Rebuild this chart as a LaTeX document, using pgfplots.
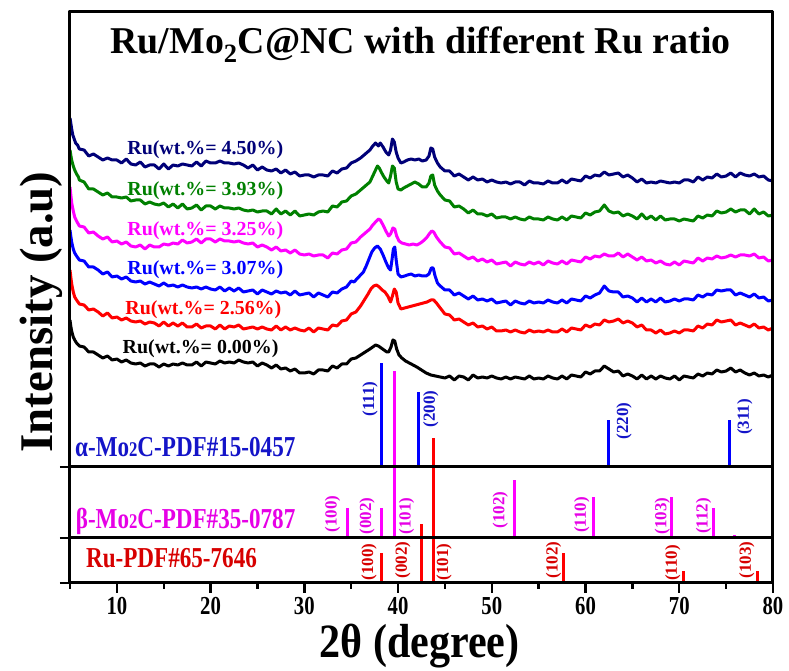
\documentclass[border=0pt]{standalone}
\usepackage{pgfplots}
\pgfplotsset{compat=1.18}
\usepackage{fontspec}
\setmainfont{Liberation Serif}
\newfontfamily\cnd[FakeStretch=0.8]{Liberation Serif}
\newfontfamily\cndx[FakeStretch=0.88]{Liberation Serif}
\newcommand\fs[1]{\fontsize{#1}{#1}\selectfont}
\definecolor{navy}{RGB}{0,0,120}
\definecolor{dgreen}{RGB}{0,128,0}
\definecolor{mag}{RGB}{255,0,255}
\definecolor{dmag}{RGB}{230,0,230}
\definecolor{blu}{RGB}{0,0,255}
\definecolor{dblu}{RGB}{20,20,200}
\definecolor{rd}{RGB}{255,0,0}
\definecolor{drd}{RGB}{215,0,0}
\begin{document}
\begin{tikzpicture}
\begin{axis}[
  scale only axis, width=703bp, height=571bp,
  xmin=5, xmax=80, ymin=12, ymax=583, y dir=reverse,
  clip=false,
  axis line style={line width=3bp},
  xtick={10,20,...,80}, minor xtick={5,15,...,75},
  ytick={467,538,583}, yticklabels={},
  xtick pos=bottom, ytick pos=left,
  tick align=outside,
  major tick length=10bp, minor tick length=6bp,
  every tick/.style={line width=2.4bp, black},
  /pgf/number format/assume math mode=true,
  xticklabel style={font=\cnd\bfseries\fs{26}, yshift=-1bp},
  line join=round,
]
\path (axis cs:-2.468,0) rectangle (axis cs:81.71,671);

% ---- XRD curves (y in picture units, reversed) ----
\addplot[navy, line width=3bp] coordinates {
(5.0,118)(5.1,124)(5.2,130)(5.3,135)(5.45,139)(5.6,143)(5.8,145)
(6.0,149)(6.5,150)(7.0,156)(7.5,154)(8.0,157)(8.5,160)(9.0,158)(9.5,160)(10.0,160)(10.5,163)(11.0,159)(11.5,164)
(12.0,165)(12.5,162)(13.0,167)(13.5,165)(14.0,165)(14.5,169)(15.0,164)(15.5,169)(16.0,165)(16.5,166)(17.0,164)(17.5,165)
(18.0,166)(18.5,162)(19.0,166)(19.5,161)(20.0,163)(20.5,163)(21.0,161)(21.5,163)(22.0,163)(22.5,164)(23.0,163)(23.5,165)
(24.0,168)(24.5,165)(25.0,170)(25.5,167)(26.0,170)(26.5,171)(27.0,169)(27.5,173)(28.0,170)(28.5,174)(29.0,172)(29.5,176)
(30.0,175)(30.5,175)(31.0,177)(31.5,175)(32.0,175)(32.5,176)(33.0,171)(33.5,173)(34.0,169)(34.5,168)(35.0,163)
(35.5,161)(36.0,158)(36.5,154)(37.0,150)(37.3,146)(37.6,143)(37.9,146)(38.1,143)(38.4,147)(38.7,152)(39.0,155)(39.2,150)(39.4,139)(39.6,142)(39.8,152)(40.0,158)(40.3,163)(40.6,162)(41.0,160)(41.4,159)(41.8,160)(42.2,159)(42.6,161)(43.0,160)(43.3,156)(43.5,148)(43.7,149)(43.9,157)(44.2,163)(44.5,167)
(45.0,171)(45.5,171)(46.0,176)(46.5,174)(47.0,177)(47.5,180)(48.0,177)(48.5,180)(49.0,179)(49.5,182)(50.0,180)(50.5,182)
(51.0,183)(51.5,182)(52.0,184)(52.5,182)(53.0,182)(53.5,185)(54.0,181)(54.5,183)(55.0,183)(55.5,184)(56.0,181)(56.5,183)
(57.0,183)(57.5,180)(58.0,183)(58.5,179)(59.0,180)(59.5,181)(60.0,176)(60.5,178)(61.0,175)(61.5,176)(62.0,172)(62.5,175)
(63.0,174)(63.5,173)(64.0,177)(64.5,175)(65.0,178)(65.5,182)(66.0,179)(66.5,183)(67.0,182)(67.5,183)(68.0,181)(68.5,182)
(69.0,183)(69.5,182)(70.0,183)(70.5,180)(71.0,180)(71.5,182)(72.0,177)(72.5,180)(73.0,177)(73.5,178)(74.0,174)(74.5,177)
(75.0,176)(75.5,173)(76.0,177)(76.5,173)(77.0,175)(77.5,176)(78.0,174)(78.5,177)(79.0,176)(79.5,180)(80.0,181)};
\addplot[dgreen, line width=3bp] coordinates {
(5.0,150)(5.1,156)(5.2,161)(5.35,166)(5.5,170)(5.7,174)(5.9,177)
(6.0,180)(6.5,182)(7.0,189)(7.5,189)(8.0,192)(8.5,195)(9.0,193)(9.5,197)(10.0,197)(10.5,198)(11.0,197)(11.5,201)
(12.0,200)(12.5,200)(13.0,204)(13.5,202)(14.0,204)(14.5,205)(15.0,203)(15.5,207)(16.0,204)(16.5,208)(17.0,204)(17.5,209)
(18.0,208)(18.5,205)(19.0,210)(19.5,206)(20.0,206)(20.5,209)(21.0,206)(21.5,208)(22.0,208)(22.5,209)(23.0,208)(23.5,210)
(24.0,211)(24.5,210)(25.0,212)(25.5,211)(26.0,211)(26.5,214)(27.0,209)(27.5,214)(28.0,211)(28.5,215)(29.0,211)(29.5,216)
(30.0,215)(30.5,214)(31.0,215)(31.5,212)(32.0,211)(32.5,212)(33.0,206)(33.5,207)(34.0,202)(34.5,201)(35.0,196)
(35.5,194)(36.0,190)(36.5,186)(37.0,182)(37.3,176)(37.6,170)(37.8,166)(38.0,168)(38.2,172)(38.5,177)(38.8,181)(39.0,183)(39.2,176)(39.4,166)(39.6,168)(39.8,182)(40.0,189)(40.3,190)(40.6,188)(41.0,186)(41.4,184)(41.8,182)(42.2,184)(42.6,187)(43.0,187)(43.3,183)(43.5,176)(43.7,175)(43.9,185)(44.2,191)(44.5,195)
(45.0,200)(45.5,201)(46.0,207)(46.5,206)(47.0,209)(47.5,213)(48.0,210)(48.5,214)(49.0,214)(49.5,216)(50.0,214)(50.5,218)
(51.0,217)(51.5,217)(52.0,219)(52.5,217)(53.0,219)(53.5,220)(54.0,217)(54.5,219)(55.0,219)(55.5,220)(56.0,217)(56.5,219)
(57.0,220)(57.5,217)(58.0,220)(58.5,216)(59.0,217)(59.5,218)(60.0,213)(60.5,215)(61.0,212)(61.5,211)(62.0,205)(62.5,211)
(63.0,213)(63.5,212)(64.0,216)(64.5,214)(65.0,216)(65.5,219)(66.0,214)(66.5,219)(67.0,216)(67.5,220)(68.0,216)(68.5,220)
(69.0,219)(69.5,219)(70.0,221)(70.5,219)(71.0,220)(71.5,221)(72.0,216)(72.5,218)(73.0,215)(73.5,216)(74.0,211)(74.5,213)
(75.0,212)(75.5,209)(76.0,212)(76.5,210)(77.0,210)(77.5,214)(78.0,209)(78.5,214)(79.0,212)(79.5,216)(80.0,215)};
\addplot[mag, line width=3bp] coordinates {
(5.0,187)(5.1,196)(5.2,204)(5.35,211)(5.5,217)(5.7,221)
(6.0,226)(6.5,227)(7.0,233)(7.5,232)(8.0,236)(8.5,239)(9.0,237)(9.5,242)(10.0,241)(10.5,244)(11.0,242)(11.5,246)
(12.0,247)(12.5,245)(13.0,249)(13.5,245)(14.0,247)(14.5,247)(15.0,244)(15.5,245)(16.0,243)(16.5,244)(17.0,240)(17.5,243)
(18.0,242)(18.5,239)(19.0,243)(19.5,239)(20.0,239)(20.5,242)(21.0,239)(21.5,241)(22.0,241)(22.5,242)(23.0,241)(23.5,243)
(24.0,244)(24.5,243)(25.0,247)(25.5,245)(26.0,247)(26.5,250)(27.0,247)(27.5,251)(28.0,250)(28.5,253)(29.0,250)(29.5,254)
(30.0,255)(30.5,254)(31.0,256)(31.5,255)(32.0,255)(32.5,258)(33.0,253)(33.5,254)(34.0,250)(34.5,249)(35.0,243)
(35.5,242)(36.0,237)(36.5,233)(37.0,229)(37.3,225)(37.6,222)(37.9,219)(38.1,220)(38.4,225)(38.7,231)(39.0,236)(39.2,234)(39.45,228)(39.65,229)(39.85,236)(40.1,241)(40.4,243)(40.8,244)(41.2,245)(41.6,244)(42.0,245)(42.4,243)(42.8,240)(43.1,237)(43.4,233)(43.6,231)(43.8,232)(44.1,237)(44.5,242)
(45.0,247)(45.5,248)(46.0,254)(46.5,253)(47.0,256)(47.5,259)(48.0,257)(48.5,261)(49.0,259)(49.5,262)(50.0,260)(50.5,264)
(51.0,263)(51.5,262)(52.0,266)(52.5,262)(53.0,264)(53.5,265)(54.0,262)(54.5,264)(55.0,262)(55.5,265)(56.0,261)(56.5,263)
(57.0,264)(57.5,261)(58.0,264)(58.5,260)(59.0,261)(59.5,262)(60.0,257)(60.5,259)(61.0,256)(61.5,257)(62.0,254)(62.5,256)
(63.0,256)(63.5,253)(64.0,257)(64.5,254)(65.0,257)(65.5,260)(66.0,257)(66.5,261)(67.0,260)(67.5,263)(68.0,261)(68.5,264)
(69.0,265)(69.5,262)(70.0,265)(70.5,261)(71.0,262)(71.5,263)(72.0,258)(72.5,261)(73.0,258)(73.5,259)(74.0,256)(74.5,258)
(75.0,257)(75.5,255)(76.0,257)(76.5,255)(77.0,255)(77.5,256)(78.0,254)(78.5,258)(79.0,257)(79.5,261)(80.0,260)};
\addplot[blu, line width=3bp] coordinates {
(5.0,230)(5.1,237)(5.2,243)(5.35,249)(5.5,253)(5.7,256)
(6.0,260)(6.5,261)(7.0,267)(7.5,267)(8.0,270)(8.5,274)(9.0,272)(9.5,277)(10.0,276)(10.5,279)(11.0,277)(11.5,281)
(12.0,282)(12.5,281)(13.0,284)(13.5,282)(14.0,284)(14.5,286)(15.0,283)(15.5,286)(16.0,285)(16.5,287)(17.0,285)(17.5,287)
(18.0,288)(18.5,287)(19.0,289)(19.5,287)(20.0,289)(20.5,290)(21.0,287)(21.5,291)(22.0,288)(22.5,291)(23.0,288)(23.5,292)
(24.0,291)(24.5,290)(25.0,294)(25.5,290)(26.0,292)(26.5,294)(27.0,291)(27.5,293)(28.0,292)(28.5,295)(29.0,291)(29.5,295)
(30.0,294)(30.5,293)(31.0,297)(31.5,293)(32.0,295)(32.5,297)(33.0,292)(33.5,293)(34.0,289)(34.5,287)(35.0,281)
(35.3,282)(35.7,278)(36.0,275)(36.3,272)(36.6,266)(36.9,259)(37.2,252)(37.5,248)(37.8,246)(38.1,249)(38.4,255)(38.7,262)(39.0,268)(39.2,270)(39.35,260)(39.5,249)(39.65,247)(39.8,260)(40.0,274)(40.3,277)(40.7,276)(41.0,275)(41.4,274)(41.8,276)(42.2,275)(42.6,276)(43.0,276)(43.3,274)(43.55,268)(43.75,268)(43.95,276)(44.2,283)(44.5,286)
(45.0,290)(45.5,290)(46.0,295)(46.5,293)(47.0,296)(47.5,299)(48.0,296)(48.5,300)(49.0,299)(49.5,301)(50.0,299)(50.5,303)
(51.0,302)(51.5,301)(52.0,305)(52.5,301)(53.0,303)(53.5,304)(54.0,301)(54.5,303)(55.0,302)(55.5,303)(56.0,300)(56.5,302)
(57.0,303)(57.5,300)(58.0,303)(58.5,299)(59.0,300)(59.5,301)(60.0,296)(60.5,298)(61.0,295)(61.5,293)(62.0,286)(62.5,291)
(63.0,292)(63.5,292)(64.0,297)(64.5,296)(65.0,298)(65.5,302)(66.0,298)(66.5,302)(67.0,299)(67.5,302)(68.0,298)(68.5,302)
(69.0,301)(69.5,299)(70.0,301)(70.5,299)(71.0,299)(71.5,300)(72.0,295)(72.5,297)(73.0,294)(73.5,295)(74.0,290)(74.5,291)
(75.0,290)(75.5,290)(76.0,295)(76.5,293)(77.0,295)(77.5,297)(78.0,294)(78.5,298)(79.0,297)(79.5,301)(80.0,300)};
\addplot[rd, line width=3bp] coordinates {
(5.0,270)(5.1,278)(5.2,285)(5.35,292)(5.5,297)(5.7,300)
(6.0,304)(6.5,305)(7.0,310)(7.5,309)(8.0,312)(8.5,316)(9.0,313)(9.5,318)(10.0,317)(10.5,320)(11.0,318)(11.5,321)
(12.0,322)(12.5,321)(13.0,324)(13.5,322)(14.0,323)(14.5,326)(15.0,322)(15.5,326)(16.0,323)(16.5,326)(17.0,323)(17.5,327)
(18.0,327)(18.5,324)(19.0,328)(19.5,326)(20.0,326)(20.5,329)(21.0,325)(21.5,329)(22.0,326)(22.5,327)(23.0,325)(23.5,329)
(24.0,328)(24.5,327)(25.0,329)(25.5,327)(26.0,329)(26.5,330)(27.0,326)(27.5,330)(28.0,327)(28.5,330)(29.0,328)(29.5,330)
(30.0,331)(30.5,328)(31.0,332)(31.5,328)(32.0,329)(32.5,330)(33.0,325)(33.5,326)(34.0,321)(34.5,320)(35.0,314)
(35.5,312)(36.0,306)(36.4,300)(36.8,294)(37.1,289)(37.4,286)(37.7,285)(38.0,287)(38.3,290)(38.6,292)(38.9,296)(39.2,302)(39.4,296)(39.6,289)(39.8,292)(40.0,303)(40.3,309)(40.7,308)(41.1,307)(41.5,306)(41.9,305)(42.3,304)(42.7,303)(43.1,302)(43.5,300)(43.8,300)(44.1,303)(44.5,308)
(45.0,314)(45.5,315)(46.0,320)(46.5,319)(47.0,322)(47.5,325)(48.0,323)(48.5,327)(49.0,326)(49.5,329)(50.0,327)(50.5,331)
(51.0,331)(51.5,330)(52.0,332)(52.5,330)(53.0,332)(53.5,333)(54.0,330)(54.5,332)(55.0,331)(55.5,332)(56.0,330)(56.5,332)
(57.0,332)(57.5,329)(58.0,332)(58.5,328)(59.0,329)(59.5,330)(60.0,325)(60.5,327)(61.0,324)(61.5,325)(62.0,320)(62.5,322)
(63.0,321)(63.5,319)(64.0,323)(64.5,321)(65.0,323)(65.5,327)(66.0,325)(66.5,330)(67.0,330)(67.5,333)(68.0,330)(68.5,334)
(69.0,333)(69.5,331)(70.0,333)(70.5,330)(71.0,330)(71.5,331)(72.0,326)(72.5,328)(73.0,324)(73.5,325)(74.0,320)(74.5,322)
(75.0,321)(75.5,320)(76.0,325)(76.5,323)(77.0,325)(77.5,327)(78.0,324)(78.5,328)(79.0,327)(79.5,330)(80.0,328)};
\addplot[black, line width=3bp] coordinates {
(5.0,320)(5.1,327)(5.2,332)(5.35,337)(5.5,340)(5.7,343)
(6.0,346)(6.5,347)(7.0,352)(7.5,352)(8.0,355)(8.5,358)(9.0,356)(9.5,360)(10.0,359)(10.5,362)(11.0,360)(11.5,363)
(12.0,364)(12.5,363)(13.0,366)(13.5,364)(14.0,364)(14.5,367)(15.0,364)(15.5,366)(16.0,364)(16.5,365)(17.0,363)(17.5,365)
(18.0,365)(18.5,362)(19.0,366)(19.5,362)(20.0,363)(20.5,364)(21.0,361)(21.5,363)(22.0,362)(22.5,363)(23.0,360)(23.5,362)
(24.0,363)(24.5,362)(25.0,366)(25.5,363)(26.0,365)(26.5,368)(27.0,365)(27.5,369)(28.0,368)(28.5,371)(29.0,369)(29.5,373)
(30.0,373)(30.5,372)(31.0,374)(31.5,370)(32.0,370)(32.5,371)(33.0,366)(33.5,368)(34.0,364)(34.5,364)(35.0,359)
(35.5,358)(36.0,355)(36.5,352)(37.0,349)(37.3,347)(37.6,345)(37.9,346)(38.2,348)(38.5,350)(38.8,352)(39.0,352)(39.25,347)(39.45,340)(39.65,341)(39.85,349)(40.1,355)(40.4,358)(40.8,361)(41.2,363)(41.6,365)(42.0,367)(42.5,370)(43.0,373)(43.5,375)(44.0,376)(44.5,377)
(45.0,378)(45.5,376)(46.0,380)(46.5,376)(47.0,377)(47.5,380)(48.0,375)(48.5,378)(49.0,377)(49.5,378)(50.0,376)(50.5,378)
(51.0,379)(51.5,377)(52.0,379)(52.5,377)(53.0,378)(53.5,379)(54.0,376)(54.5,379)(55.0,378)(55.5,379)(56.0,376)(56.5,378)
(57.0,379)(57.5,376)(58.0,379)(58.5,375)(59.0,376)(59.5,377)(60.0,372)(60.5,374)(61.0,371)(61.5,371)(62.0,366)(62.5,369)
(63.0,372)(63.5,371)(64.0,376)(64.5,374)(65.0,376)(65.5,379)(66.0,375)(66.5,379)(67.0,376)(67.5,379)(68.0,376)(68.5,378)
(69.0,379)(69.5,376)(70.0,380)(70.5,376)(71.0,377)(71.5,378)(72.0,374)(72.5,376)(73.0,373)(73.5,374)(74.0,370)(74.5,372)
(75.0,371)(75.5,368)(76.0,372)(76.5,370)(77.0,373)(77.5,375)(78.0,373)(78.5,376)(79.0,375)(79.5,377)(80.0,375)};

% ---- reference sticks ----
\addplot[blu, line width=3bp, unbounded coords=jump] coordinates {
(38.2,467)(38.2,363)(38.2,nan)(42.2,467)(42.2,392)(42.2,nan)(62.4,467)(62.4,420)(62.4,nan)(75.4,467)(75.4,420)};
\addplot[mag, line width=3bp, unbounded coords=jump] coordinates {
(34.6,538)(34.6,508)(34.6,nan)(38.2,538)(38.2,508)(38.2,nan)(39.6,538)(39.6,371)(39.6,nan)(52.4,538)(52.4,480)(52.4,nan)(60.9,538)(60.9,497)(60.9,nan)(69.2,538)(69.2,497)(69.2,nan)(73.7,538)(73.7,508)(73.7,nan)(75.9,538)(75.9,535)};
\addplot[rd, line width=3bp, unbounded coords=jump] coordinates {
(38.2,583)(38.2,553)(38.2,nan)(42.5,583)(42.5,524)(42.5,nan)(43.8,583)(43.8,438)(43.8,nan)(57.7,583)(57.7,553)(57.7,nan)(70.4,583)(70.4,571)(70.4,nan)(78.4,583)(78.4,571)};

% separators and frame
\draw[line width=3bp] (axis cs:5,467) -- (axis cs:80,467);
\draw[line width=3bp] (axis cs:5,538) -- (axis cs:80,538);
\draw[line width=3bp] (rel axis cs:0,0) rectangle (rel axis cs:1,1);

% ---- texts ----
\node[font=\bfseries\fs{38}] at (axis cs:42.4,45) {Ru/Mo\textsubscript{2}C@NC with different Ru ratio};
\begin{scope}[every node/.style={font=\bfseries\fs{20}, anchor=west, inner sep=0pt}]
\node[text=navy] at (axis cs:11.1,150) {Ru(wt.\%= 4.50\%)};
\node[text=dgreen] at (axis cs:11.1,191) {Ru(wt.\%= 3.93\%)};
\node[text=mag] at (axis cs:11.1,231) {Ru(wt.\%= 3.25\%)};
\node[text=blu] at (axis cs:11.1,270) {Ru(wt.\%= 3.07\%)};
\node[text=rd] at (axis cs:10.9,310) {Ru(wt.\%= 2.56\%)};
\node[text=black] at (axis cs:10.6,349) {Ru(wt.\%= 0.00\%)};
\end{scope}
\begin{scope}[every node/.style={font=\cnd\bfseries\fs{29}, anchor=west, inner sep=0pt}]
\node[text=dblu] at (axis cs:5.53,447) {α-Mo{\fs{21}2}C-PDF\#15-0457};
\node[text=dmag] at (axis cs:5.6,521) {β-Mo{\fs{21}2}C-PDF\#35-0787};
\node[text=drd] at (axis cs:6.7,558) {Ru-PDF\#65-7646};
\end{scope}
\begin{scope}[every node/.style={font=\bfseries\fs{17}, rotate=90, inner sep=0pt}]
\node[text=dblu] at (axis cs:37.0,399) {(111)};
\node[text=dblu] at (axis cs:43.5,409) {(200)};
\node[text=dblu] at (axis cs:64.1,421) {(220)};
\node[text=dblu] at (axis cs:77.0,417) {(311)};
\node[text=dmag] at (axis cs:33.0,514) {(100)};
\node[text=dmag] at (axis cs:36.7,516) {(002)};
\node[text=dmag] at (axis cs:40.9,516) {(101)};
\node[text=dmag] at (axis cs:50.9,510) {(102)};
\node[text=dmag] at (axis cs:59.6,515) {(110)};
\node[text=dmag] at (axis cs:68.2,516) {(103)};
\node[text=dmag] at (axis cs:72.6,516) {(112)};
\node[text=drd] at (axis cs:36.9,562) {(100)};
\node[text=drd] at (axis cs:40.5,560) {(002)};
\node[text=drd] at (axis cs:44.9,562) {(101)};
\node[text=drd] at (axis cs:56.6,560) {(102)};
\node[text=drd] at (axis cs:69.3,563) {(110)};
\node[text=drd] at (axis cs:77.2,560) {(103)};
\end{scope}
\node[font=\cndx\bfseries\fs{48}, inner sep=0pt] at (axis cs:42.3,646) {2θ (degree)};
\node[font=\bfseries\fs{47}, rotate=90, inner sep=0pt] at (axis cs:1.9,312) {Intensity (a.u)};
\end{axis}
\end{tikzpicture}
\end{document}
